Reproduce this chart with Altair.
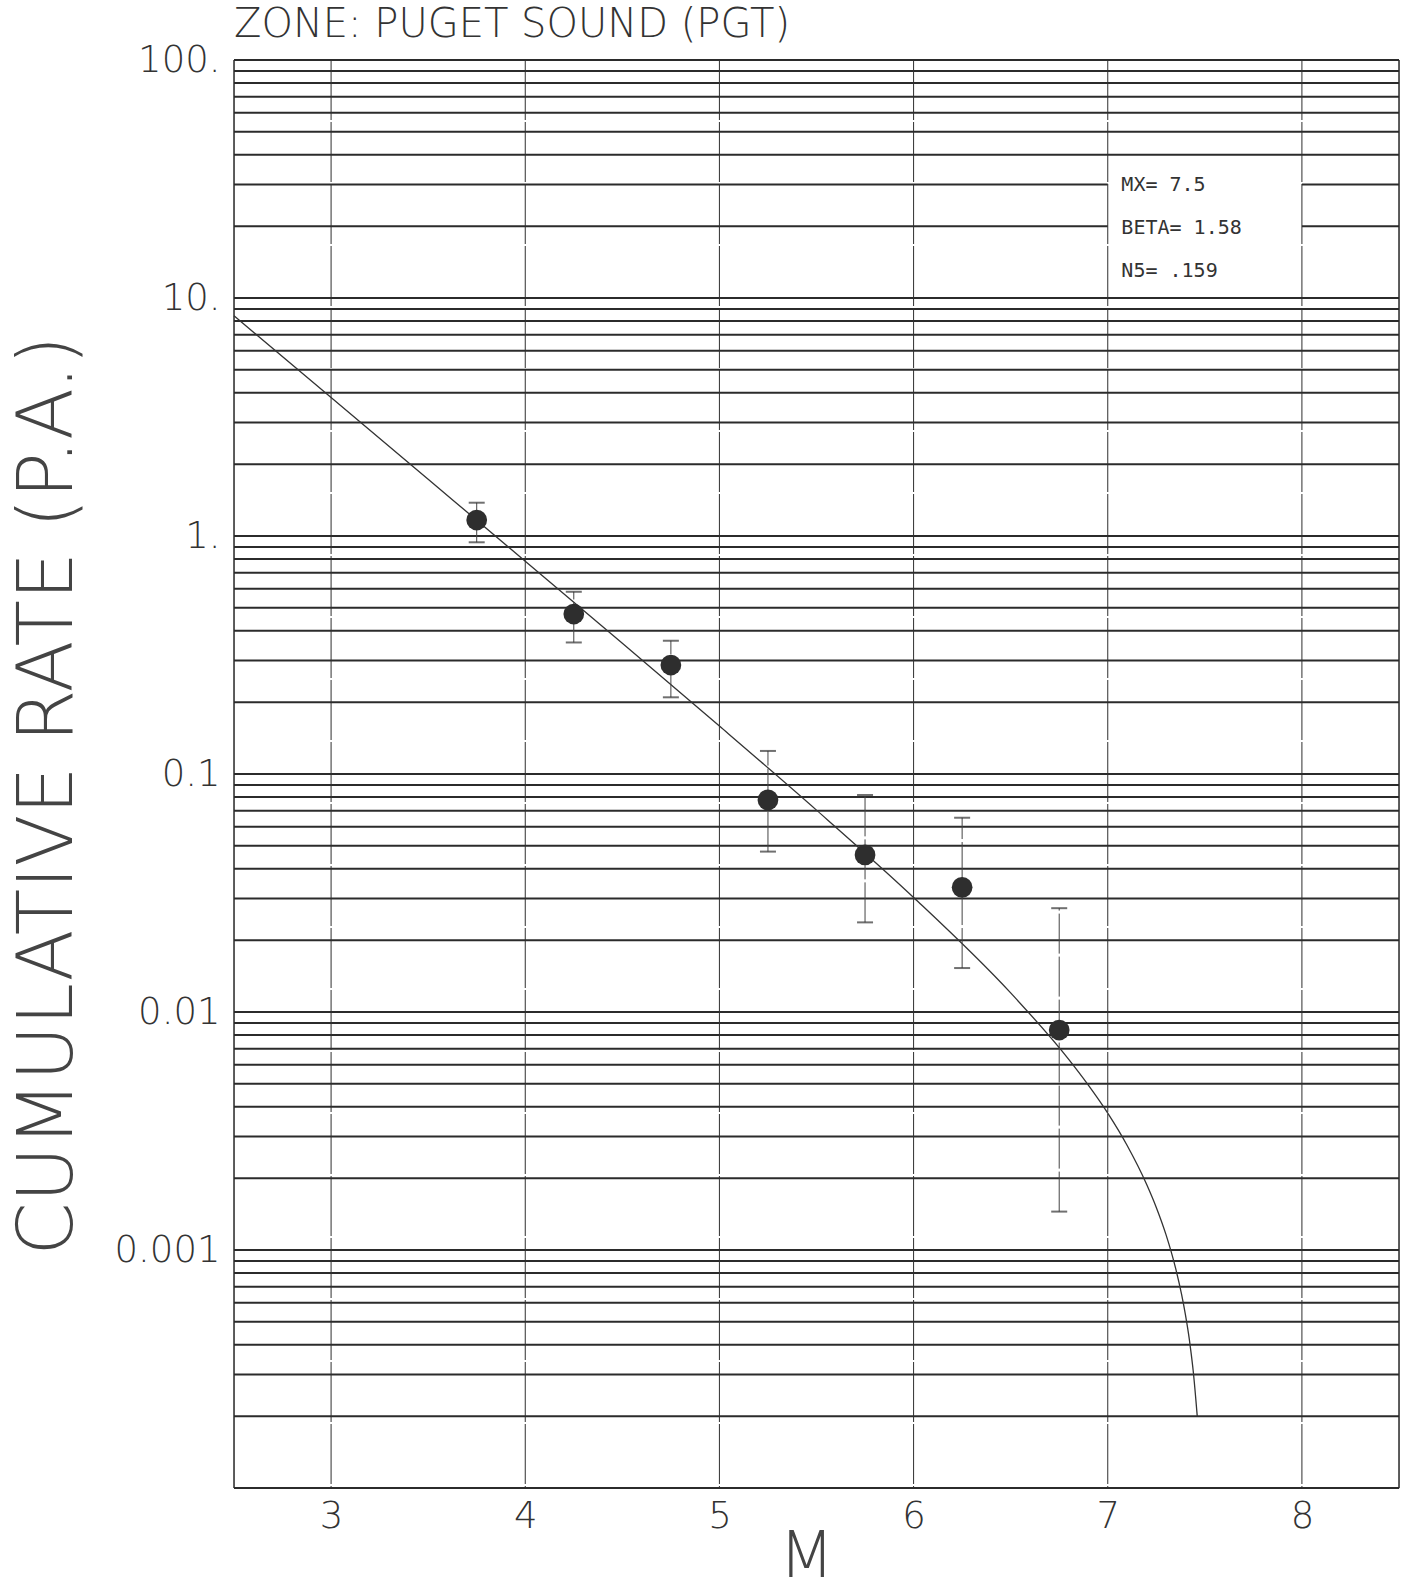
import altair as alt
import pandas as pd

# ---- data ----
mag = [3.75, 4.25, 4.75, 5.25, 5.75, 6.25, 6.75]
rate = [1.167, 0.470, 0.287, 0.0778, 0.0457, 0.0334, 0.0084]
rate_hi = [1.38, 0.583, 0.363, 0.125, 0.0816, 0.0655, 0.0273]
rate_lo = [0.941, 0.357, 0.210, 0.0472, 0.0238, 0.0153, 0.00145]

curve_m = [2.5, 3.0, 3.5, 4.0, 4.5, 5.0, 5.5, 6.0, 6.5, 6.8, 6.9, 7.0, 7.1,
           7.2, 7.25, 7.3, 7.35, 7.38, 7.4, 7.42, 7.43, 7.44, 7.461]
curve_rate = [8.42, 3.82, 1.731, 0.784, 0.354, 0.159, 0.0705, 0.0303, 0.01203,
              0.00631, 0.00493, 0.00376, 0.00275, 0.00189, 0.00151, 0.00116,
              0.000835, 0.000652, 0.000535, 0.000422, 0.000365, 0.000311, 0.0002]

x_ticks = [3, 4, 5, 6, 7, 8]
y_label_ticks = [0.001, 0.01, 0.1, 1, 10, 100]
decades = [0.0001, 0.001, 0.01, 0.1, 1, 10]
multipliers = [1, 2, 3, 4, 5, 6, 7, 8, 9]
h_grid = [d * m for d in decades for m in multipliers] + [100]
frame_x = [2.5, 8.5]

box_x = [7.0]
box_x2 = [8.0]
box_y = [10.4]
box_y2 = [38.0]
param_text = ["MX= 7.5", "BETA= 1.58", "N5= .159"]
param_y = [28.2, 18.6, 12.25]
param_x = [7.07, 7.07, 7.07]

title_text = "ZONE: PUGET SOUND (PGT)"
y_title = "CUMULATIVE RATE (P.A.)"
x_title = "M"

MONO = "DejaVu Sans Mono"
SANS = "DejaVu Sans"
INK = "#2b2b2b"

pts = pd.DataFrame({"M": mag, "rate": rate, "hi": rate_hi, "lo": rate_lo})
cur = pd.DataFrame({"M": curve_m, "rate": curve_rate})
hg = pd.DataFrame({"v": h_grid})
vg = pd.DataFrame({"v": x_ticks})
fr = pd.DataFrame({"v": frame_x})
box = pd.DataFrame({"x": box_x, "x2": box_x2, "y": box_y, "y2": box_y2})
txt = pd.DataFrame({"t": param_text, "x": param_x, "y": param_y})

xs = alt.Scale(domain=[2.5, 8.5], nice=False, zero=False)
ys = alt.Scale(type="log", domain=[0.0001, 100], nice=False)

x_axis = alt.Axis(values=x_ticks, title=x_title, grid=False, domain=False, ticks=False,
                  labelFont=SANS, labelFontSize=37, labelFontWeight=200, labelColor="#333",
                  labelPadding=10,
                  titleFont=SANS, titleFontSize=64, titleFontWeight=200, titleColor="#444",
                  titleX=572, titleY=88, titleBaseline="alphabetic", titleAlign="center")
y_axis = alt.Axis(values=y_label_ticks, title=y_title, grid=False, domain=False, ticks=False,
                  format="~g",
                  labelExpr="datum.value >= 1 ? datum.label + '.' : datum.label",
                  labelFont=SANS, labelFontSize=37, labelFontWeight=200, labelColor="#333",
                  labelPadding=14, labelBaseline="middle",
                  titleFont=SANS, titleFontSize=76, titleFontWeight=200, titleColor="#444",
                  titleAngle=270, titleX=-186, titleY=735, titleAlign="center",
                  titleBaseline="middle")


def X(field):
    return alt.X(field, scale=xs, axis=x_axis)


def Y(field):
    return alt.Y(field, scale=ys, axis=y_axis)


hlines = alt.Chart(hg).mark_rule(color=INK, strokeWidth=2).encode(y=Y("v:Q"))
white = alt.Chart(box).mark_rect(color="white").encode(
    x=X("x:Q"), x2="x2:Q", y=Y("y:Q"), y2="y2:Q")
vlines = alt.Chart(vg).mark_rule(color="#2f2f2f", strokeWidth=1, strokeDash=[60, 2]).encode(
    x=X("v:Q"))
frame = alt.Chart(fr).mark_rule(color=INK, strokeWidth=1.5).encode(x=X("v:Q"))
curve = alt.Chart(cur).mark_line(color="#333", strokeWidth=1.3, interpolate="monotone").encode(
    x=X("M:Q"), y=Y("rate:Q"))
ebar = alt.Chart(pts).mark_rule(color="#444", strokeWidth=1, strokeDash=[40, 3]).encode(
    x=X("M:Q"), y=Y("lo:Q"), y2="hi:Q")
cap_hi = alt.Chart(pts).mark_tick(color="#333", orient="horizontal", size=16, thickness=2).encode(
    x=X("M:Q"), y=Y("hi:Q"))
cap_lo = alt.Chart(pts).mark_tick(color="#333", orient="horizontal", size=16, thickness=2).encode(
    x=X("M:Q"), y=Y("lo:Q"))
dots = alt.Chart(pts).mark_point(shape="circle", filled=True, size=430, color="#2e2e2e",
                                 opacity=1).encode(x=X("M:Q"), y=Y("rate:Q"))
labels = alt.Chart(txt).mark_text(font=MONO, fontSize=20, color="#333", align="left",
                                  baseline="alphabetic").encode(
    x=X("x:Q"), y=Y("y:Q"), text="t:N")

chart = alt.layer(hlines, white, vlines, frame, curve, ebar, cap_hi, cap_lo, dots, labels).properties(
    width=1165, height=1428,
    padding={"left": 234, "top": 60, "right": 11, "bottom": 103},
    autosize=alt.AutoSizeParams(type="none"),
    title=alt.TitleParams(title_text, anchor="start", font=SANS, fontSize=40,
                          fontWeight=200, color="#333", offset=21, dy=57,
                          baseline="alphabetic", frame="group"),
).configure_view(stroke=None).configure(background="white")

chart.save("out.html", embed_options={"renderer": "svg", "actions": False})
